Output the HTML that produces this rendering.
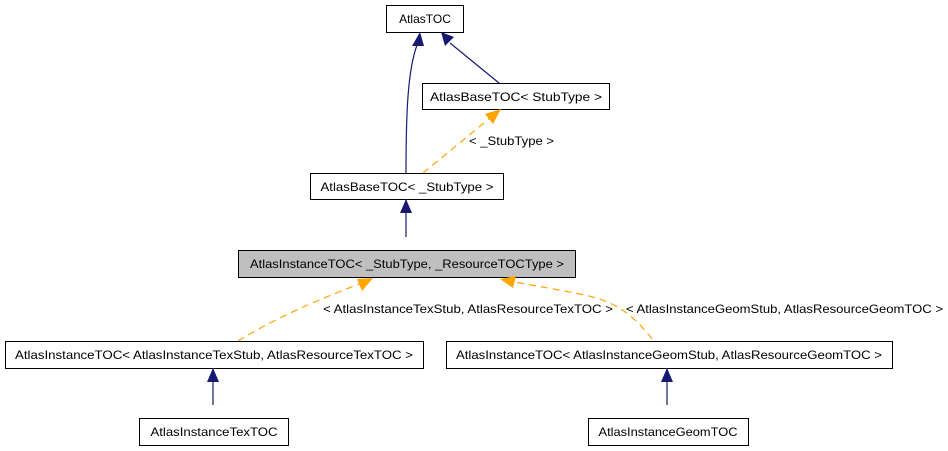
<!DOCTYPE html>
<html><head><meta charset="utf-8"><style>
html,body{margin:0;padding:0;background:#fff;}
svg{display:block;}
text{font-family:"Liberation Sans",Arial,sans-serif;font-size:12px;fill:#000;}
</style></head><body>
<svg width="948" height="451" viewBox="0 0 948 451" xmlns="http://www.w3.org/2000/svg">
<g fill="#fff" stroke="#000" stroke-width="1">
<rect x="386.5" y="5.5" width="77" height="27"/>
<rect x="422.5" y="83.5" width="187" height="26"/>
<rect x="310.5" y="173.5" width="193" height="26"/>
<rect x="238.5" y="250.5" width="337" height="27" fill="#bfbfbf"/>
<rect x="5.5" y="341.5" width="418" height="27"/>
<rect x="446.5" y="341.5" width="446" height="27"/>
<rect x="139.5" y="418.5" width="149" height="27"/>
<rect x="588.5" y="418.5" width="160" height="27"/>
</g>
<text x="425" y="23" text-anchor="middle">AtlasTOC</text>
<text x="516" y="101" text-anchor="middle" textLength="172" lengthAdjust="spacingAndGlyphs">AtlasBaseTOC&lt; StubType &gt;</text>
<text x="407" y="191" text-anchor="middle" textLength="173" lengthAdjust="spacingAndGlyphs">AtlasBaseTOC&lt; _StubType &gt;</text>
<text x="407" y="268" text-anchor="middle" textLength="314" lengthAdjust="spacingAndGlyphs">AtlasInstanceTOC&lt; _StubType, _ResourceTOCType &gt;</text>
<text x="214" y="359" text-anchor="middle" textLength="398" lengthAdjust="spacingAndGlyphs">AtlasInstanceTOC&lt; AtlasInstanceTexStub, AtlasResourceTexTOC &gt;</text>
<text x="669" y="359" text-anchor="middle" textLength="426" lengthAdjust="spacingAndGlyphs">AtlasInstanceTOC&lt; AtlasInstanceGeomStub, AtlasResourceGeomTOC &gt;</text>
<text x="214" y="436" text-anchor="middle" textLength="127" lengthAdjust="spacingAndGlyphs">AtlasInstanceTexTOC</text>
<text x="668" y="436" text-anchor="middle" textLength="139" lengthAdjust="spacingAndGlyphs">AtlasInstanceGeomTOC</text>
<text x="469" y="145" textLength="85" lengthAdjust="spacingAndGlyphs">&lt; _StubType &gt;</text>
<text x="323" y="313" textLength="290" lengthAdjust="spacingAndGlyphs">&lt; AtlasInstanceTexStub, AtlasResourceTexTOC &gt;</text>
<text x="626" y="313" textLength="317" lengthAdjust="spacingAndGlyphs">&lt; AtlasInstanceGeomStub, AtlasResourceGeomTOC &gt;</text>
<g fill="none" stroke="#191970" stroke-width="1.2">
<path d="M406,173 C406,110 408,70 417,45"/>
<path d="M499,83 L450,43"/>
<path d="M406,199 L406,237"/>
<path d="M213,368 L213,405"/>
<path d="M667,368 L667,405"/>
</g>
<g fill="#191970">
<polygon points="420,32 412,46 424,46"/>
<polygon points="441,32 445,46 454,37"/>
<polygon points="406,199 400,213 412,213"/>
<polygon points="213,368 207,382 219,382"/>
<polygon points="667,368 661,382 673,382"/>
</g>
<g fill="none" stroke="#ffa500" stroke-width="1.2" stroke-dasharray="7,5">
<path d="M423,173 L490,118"/>
<path d="M238,341 C280,315 330,295 362,283"/>
<path d="M652,339 C630,310 610,300 580,294 C555,289 530,285 515,282"/>
</g>
<g fill="#ffa500">
<polygon points="501,109 485,114 493,124"/>
<polygon points="373,278 357,279 362,291"/>
<polygon points="500,279 513,288 516,276"/>
</g>
</svg>
</body></html>
